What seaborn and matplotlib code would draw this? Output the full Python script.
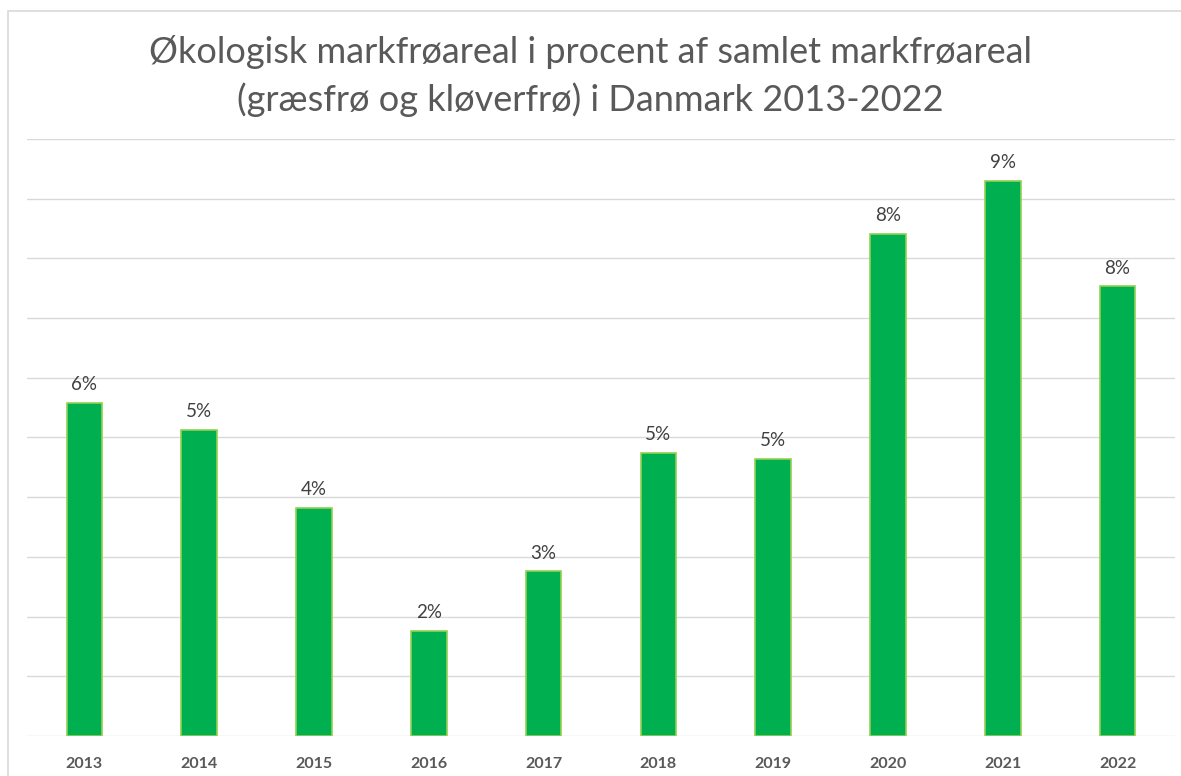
import matplotlib
matplotlib.use("Agg")
import matplotlib.pyplot as plt
import seaborn as sns
import pandas as pd
from matplotlib.patches import Rectangle

years = ["2013", "2014", "2015", "2016", "2017", "2018", "2019", "2020", "2021", "2022"]
values = [5.58, 5.13, 3.82, 1.76, 2.76, 4.74, 4.64, 8.41, 9.30, 7.53]
title = "Økologisk markfrøareal i procent af samlet markfrøareal\n(græsfrø og kløverfrø) i Danmark 2013-2022"

sns.set_theme(style="white")
plt.rcParams['font.family'] = ['Lato', 'DejaVu Sans']

df = pd.DataFrame({"year": years, "value": values})

fig = plt.figure(figsize=(11.81, 7.76), dpi=100)
fig.patch.set_facecolor("white")
# chart frame (partially cropped in the reference)
fig.patches.append(Rectangle((8/1181, -0.2), 1.5, (776-11)/776 + 0.2, transform=fig.transFigure,
                             fill=False, edgecolor="#D9D9D9", linewidth=1.2))

ax = fig.add_axes([27/1181, (776-736)/776, (1175-27)/1181, (736-139)/776])
sns.barplot(data=df, x="year", y="value", ax=ax, color="#00B050", width=0.31,
            edgecolor="#92D050", linewidth=1.2, saturation=1)

ax.set_ylim(0, 10)
ax.set_xlim(-0.5, 9.5)
ax.set_yticks(range(0, 11))
ax.yaxis.grid(True, color="#D9D9D9", linewidth=1.0)
ax.set_axisbelow(True)
ax.tick_params(axis="y", left=False, labelleft=False)
ax.tick_params(axis="x", bottom=False, pad=9)
for lbl in ax.get_xticklabels():
    lbl.set_fontweight("bold")
    lbl.set_color("#595959")
    lbl.set_fontsize(11.5)
for s in ax.spines.values():
    s.set_visible(False)
ax.set_xlabel("")
ax.set_ylabel("")

for i, v in enumerate(values):
    ax.annotate(f"{round(v):.0f}%", (i, v), xytext=(0, 7), textcoords="offset points",
                ha="center", va="bottom", fontsize=13.5, color="#404040")

fig.text(0.5, 1 - 76/776, title, ha="center", va="center", fontsize=26,
         color="#595959", linespacing=1.5, fontweight="normal")

fig.savefig("out.png", dpi=100, facecolor="white")
